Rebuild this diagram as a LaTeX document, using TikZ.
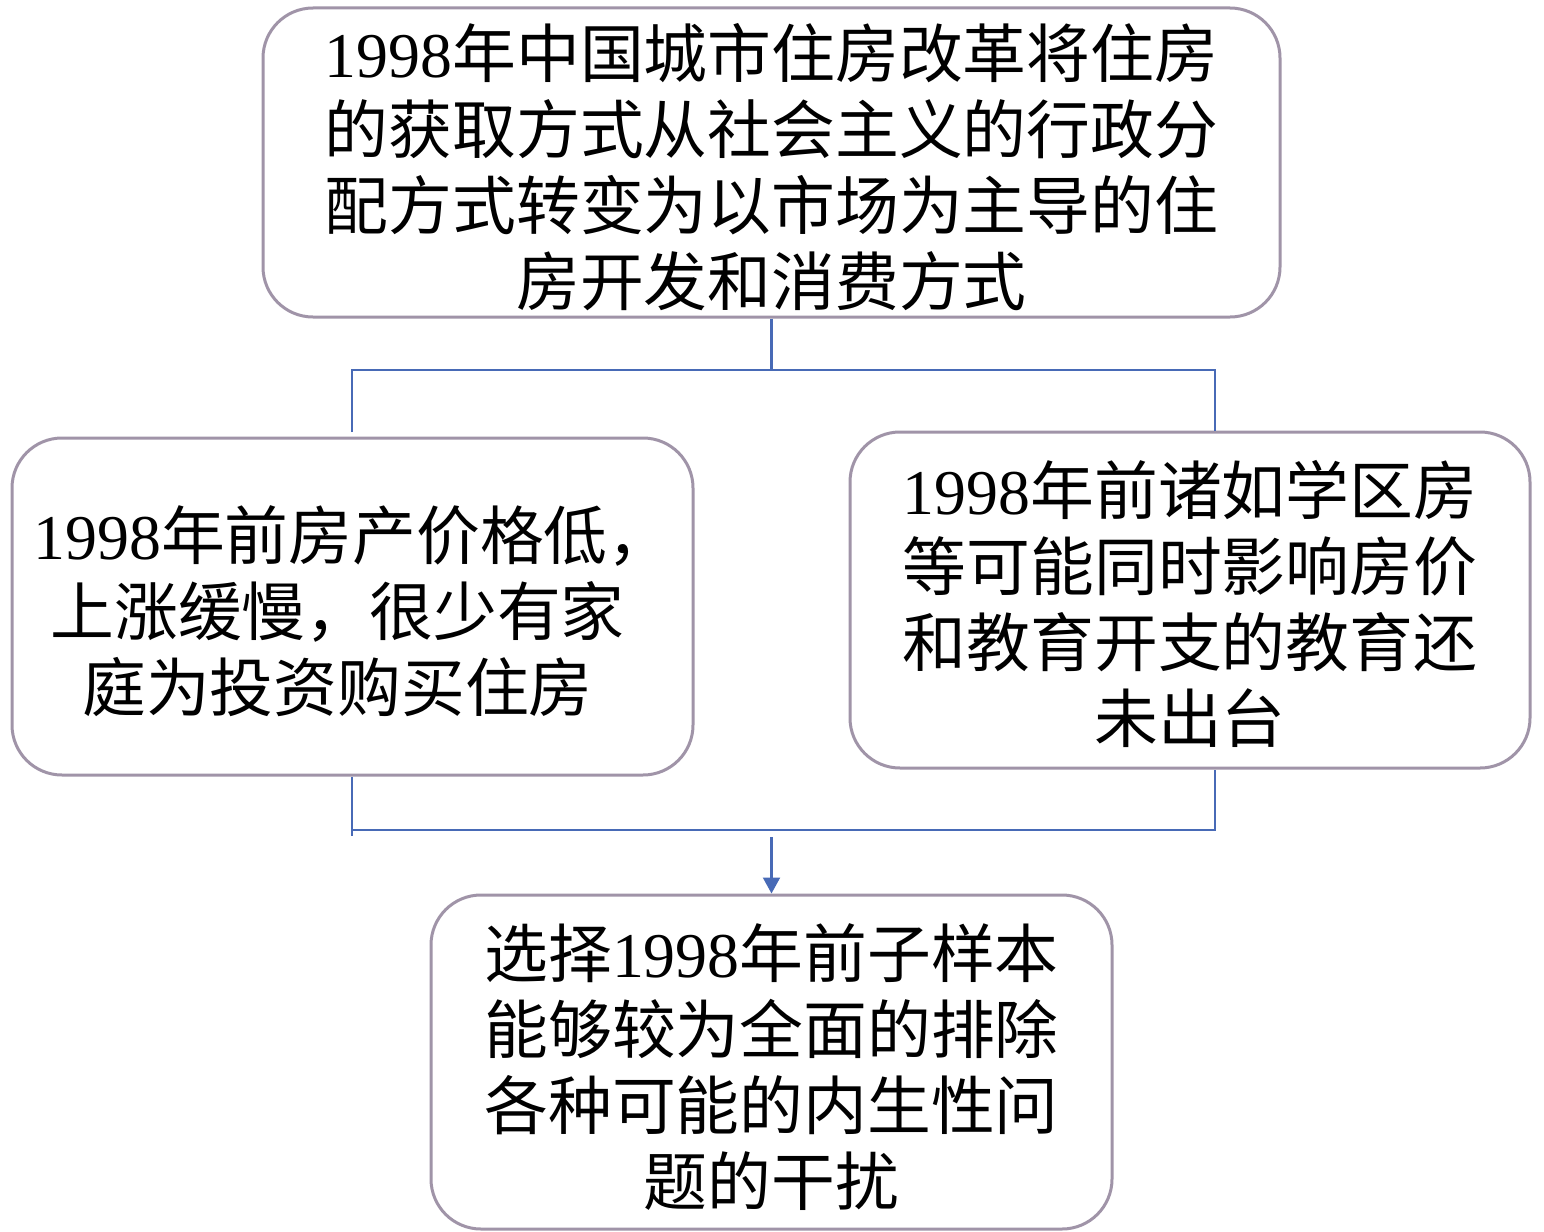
\documentclass[tikz,border=0pt]{standalone}
\usepackage{fontspec}
\usetikzlibrary{arrows.meta}
\newfontfamily\cjk{Noto Sans CJK SC}
\newfontfamily\lat{Liberation Serif}
\newcommand\yr{{\lat 1998}}
\newcommand\padr{\rule{30pt}{0pt}}
\definecolor{boxline}{RGB}{160,148,168}
\definecolor{conn}{RGB}{72,106,182}
\begin{document}
\begin{tikzpicture}[x=1pt,y=-1pt,
  box/.style={draw=boxline,line width=3pt,rounded corners=50pt,fill=white,inner sep=0pt},
  txt/.style={inner sep=0pt,align=center,font=\cjk\fontsize{63.8}{76}\selectfont},
  wire/.style={draw=conn,line width=2.2pt},
  arr/.style={wire,-{Triangle[length=16pt,width=17pt]}}]
\useasboundingbox (0,0) rectangle (1544,1231);
\node[box,minimum width=1017pt,minimum height=309pt] (top) at (771.5,162.5) {};
\node[box,minimum width=681pt,minimum height=337pt] (left) at (352.5,606.5) {};
\node[box,minimum width=680pt,minimum height=336pt] (right) at (1190,600) {};
\node[box,minimum width=681pt,minimum height=334pt] (bot) at (771.5,1062) {};
\node[txt] (topt) at (771.5,167.5)
  {\yr 年中国城市住房改革将住房\\的获取方式从社会主义的行政分\\配方式转变为以市场为主导的住\\房开发和消费方式};
\node[txt] (leftt) at (352.5,611.5)
  {\yr 年前房产价格低，\\上涨缓慢，很少有家\padr\\庭为投资购买住房\padr};
\node[txt] (rightt) at (1190,604)
  {\yr 年前诸如学区房\\等可能同时影响房价\\和教育开支的教育还\\未出台};
\node[txt] (bott) at (771.5,1067)
  {选择\yr 年前子样本\\能够较为全面的排除\\各种可能的内生性问\\题的干扰};
% upper connectors
\coordinate (tj) at (771.5,370);
\coordinate (tl) at (352,370);
\coordinate (tr) at (1215,370);
\coordinate (tle) at (352,432);
\draw[wire] (top.south) -- (tj);
\draw[wire] (tle) -- (tl) -- (tr) -- (tr |- right.north);
% lower connectors
\coordinate (bl) at (352,830);
\coordinate (br) at (1215,830);
\coordinate (ble) at (352,836);
\coordinate (as) at (771.5,837);
\draw[wire] (ble |- left.south) -- (ble);
\draw[wire] (bl) -- (br) -- (br |- right.south);
\draw[arr] (as) -- (bot.north);
\end{tikzpicture}
\end{document}
